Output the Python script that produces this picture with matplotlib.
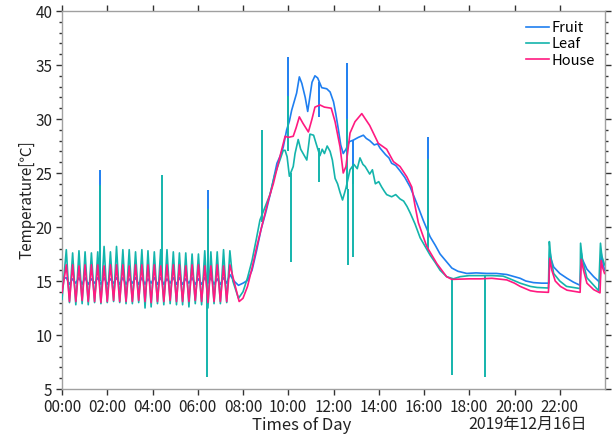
import numpy as np
import matplotlib
matplotlib.use("Agg")
import matplotlib.pyplot as plt
from matplotlib.ticker import MultipleLocator, FuncFormatter

plt.rcParams['font.family'] = ['Noto Sans CJK JP', 'DejaVu Sans']

# night cycling (hours of day)
night_peak_t = [0.19, 0.47, 0.75, 1.02, 1.30, 1.58, 1.86, 2.14, 2.41, 2.69, 2.97, 3.25, 3.53, 3.80,
                4.08, 4.36, 4.64, 4.92, 5.19, 5.47, 5.75, 6.03, 6.31, 6.58, 6.86, 7.14, 7.42]
night_trough_t = [0.33, 0.61, 0.89, 1.16, 1.44, 1.72, 2.00, 2.28, 2.55, 2.83, 3.11, 3.39, 3.67,
                  3.94, 4.22, 4.50, 4.78, 5.06, 5.33, 5.61, 5.89, 6.17, 6.45, 6.72, 7.00, 7.28]

fruit_start = 15.2
fruit_peaks = [15.3, 15.2, 15.3, 15.3, 15.2, 15.3, 15.3, 15.2, 15.3, 15.3, 15.2, 15.3, 15.3, 15.2,
               15.3, 15.3, 15.2, 15.3, 15.3, 15.2, 15.3, 15.2, 15.3, 15.3, 15.2, 15.3, 15.6]
fruit_troughs = [14.7, 14.8, 14.7, 14.7, 14.8, 14.7, 14.7, 14.8, 14.7, 14.7, 14.8, 14.7, 14.7,
                 14.8, 14.7, 14.7, 14.8, 14.7, 14.7, 14.8, 14.7, 14.7, 14.8, 14.7, 14.7, 14.8]

leaf_start = 13.3
leaf_peaks = [17.9, 17.6, 17.8, 17.7, 17.6, 17.7, 18.2, 17.7, 18.2, 17.9, 17.9, 17.7, 17.9, 17.8,
              17.7, 17.9, 17.9, 17.7, 17.6, 17.6, 17.5, 17.5, 17.8, 17.7, 17.7, 17.9, 17.8]
leaf_troughs = [13.0, 12.8, 12.9, 12.8, 13.0, 12.9, 13.0, 13.1, 13.0, 12.9, 12.9, 13.0, 12.5,
                12.6, 12.9, 12.8, 12.9, 12.8, 12.8, 12.6, 12.9, 12.8, 12.5, 12.9, 12.9, 13.0]

house_start = 13.9
house_peaks = [16.5, 16.5, 16.4, 16.5, 16.5, 16.5, 16.4, 16.5, 16.5, 16.5, 16.4, 16.5, 16.5, 16.5,
               16.5, 16.4, 16.5, 16.5, 16.5, 16.4, 16.5, 16.5, 16.4, 16.4, 16.5, 16.4, 16.5]
house_troughs = [13.1, 13.1, 13.2, 13.1, 13.1, 13.0, 13.1, 13.2, 13.1, 13.1, 13.1, 13.2, 13.1,
                 13.0, 13.1, 13.1, 13.2, 13.1, 13.1, 13.1, 13.2, 13.1, 13.0, 13.1, 13.1, 13.1]

# daytime
fruit_day_t = [7.6, 7.8, 8.0, 8.2, 8.4, 8.6, 8.8, 9.0, 9.2, 9.34, 9.5, 9.65, 9.78, 9.93, 10.05,
               10.15, 10.37, 10.49, 10.6, 10.75, 10.86, 10.95, 11.05, 11.18, 11.3, 11.48, 11.7,
               11.85, 12.0, 12.1, 12.21, 12.32, 12.43, 12.55, 12.7, 12.88, 13.1, 13.32, 13.45,
               13.6, 13.8, 13.95, 14.06, 14.3, 14.45, 14.57, 14.75, 14.94, 15.15, 15.39, 15.68,
               15.97, 16.27, 16.5, 16.71, 16.95, 17.23, 17.5, 17.89, 18.3, 18.77, 19.2, 19.66,
               20.0, 20.25, 20.5, 20.84, 21.2, 21.52, 21.56, 21.62, 21.73, 22.0, 22.32, 22.6,
               22.9, 22.95, 23.0, 23.2, 23.5, 23.78, 23.83, 23.88, 23.98]
fruit_day = [15.0, 14.6, 14.8, 15.05, 16.0, 17.8, 19.8, 21.3, 23.0, 24.35, 25.9, 26.6, 27.4,
             29.0, 29.8, 30.8, 32.4, 33.9, 33.3, 32.0, 30.7, 32.0, 33.4, 34.0, 33.8, 32.9, 32.8,
             32.5, 31.6, 30.5, 29.1, 27.6, 26.8, 27.2, 27.9, 28.05, 28.3, 28.5, 28.2, 28.0,
             27.6, 27.7, 27.3, 26.7, 26.4, 25.9, 25.7, 25.2, 24.6, 23.7, 22.2, 20.6, 19.1,
             18.3, 17.5, 16.9, 16.2, 15.9, 15.7, 15.75, 15.7, 15.7, 15.6, 15.4, 15.25, 15.0,
             14.85, 14.8, 14.8, 17.8, 17.0, 16.3, 15.7, 15.25, 14.9, 14.6, 17.6, 17.0, 16.1,
             15.4, 14.85, 17.6, 17.0, 16.0]

leaf_day_t = [7.55, 7.8, 8.0, 8.2, 8.4, 8.6, 8.75, 9.0, 9.19, 9.4, 9.63, 9.78, 9.86, 9.95,
              10.05, 10.22, 10.3, 10.44, 10.55, 10.74, 10.82, 10.96, 11.12, 11.25, 11.4, 11.5,
              11.6, 11.72, 11.85, 11.95, 12.07, 12.18, 12.29, 12.4, 12.55, 12.73, 12.9, 13.05,
              13.17, 13.3, 13.4, 13.6, 13.72, 13.85, 14.0, 14.13, 14.25, 14.35, 14.57, 14.75,
              14.94, 15.1, 15.25, 15.39, 15.6, 15.83, 16.05, 16.27, 16.5, 16.71, 17.0, 17.3,
              17.6, 18.0, 18.5, 19.0, 19.5, 19.8, 20.25, 20.7, 21.0, 21.5, 21.54, 21.6, 21.73,
              22.0, 22.3, 22.9, 22.92, 23.0, 23.2, 23.5, 23.72, 23.8, 23.86, 23.98]
leaf_day = [15.0, 13.4, 14.0, 15.3, 16.9, 19.0, 20.65, 22.0, 23.0, 24.8, 26.2, 27.1, 27.1, 26.5,
            24.7, 25.6, 26.8, 28.1, 27.2, 26.5, 26.2, 28.6, 28.5, 27.6, 26.6, 27.2, 26.8, 27.5,
            27.0, 26.2, 24.5, 24.0, 23.2, 22.5, 23.6, 25.3, 25.8, 25.4, 26.4, 25.8, 25.6, 24.9,
            25.3, 24.0, 24.2, 23.7, 23.3, 23.0, 22.8, 23.0, 22.6, 22.4, 21.9, 21.3, 20.3, 19.0,
            18.2, 17.4, 16.7, 16.0, 15.4, 15.2, 15.4, 15.5, 15.5, 15.5, 15.45, 15.2, 14.8,
            14.5, 14.4, 14.35, 18.65, 17.3, 15.7, 15.0, 14.5, 14.3, 18.5, 17.0, 15.3, 14.6,
            14.1, 18.5, 17.3, 16.5]

house_day_t = [7.6, 7.83, 8.0, 8.2, 8.4, 8.6, 8.9, 9.12, 9.34, 9.63, 9.86, 10.0, 10.22, 10.35,
               10.49, 10.65, 10.89, 11.05, 11.18, 11.4, 11.6, 11.9, 12.07, 12.29, 12.43, 12.55,
               12.73, 12.95, 13.25, 13.6, 13.98, 14.35, 14.65, 14.94, 15.24, 15.46, 15.6, 15.75,
               16.12, 16.57, 17.0, 17.23, 18.0, 18.5, 19.0, 19.66, 20.0, 20.25, 20.7, 21.0,
               21.5, 21.56, 21.65, 21.8, 22.03, 22.32, 22.9, 22.95, 23.05, 23.2, 23.5, 23.78,
               23.83, 23.9, 23.98]
house_day = [15.0, 13.1, 13.4, 14.5, 16.2, 18.1, 20.65, 22.5, 24.0, 26.5, 28.4, 28.3, 28.4,
             29.2, 30.2, 29.6, 28.8, 30.0, 31.1, 31.3, 31.1, 31.0, 29.75, 27.4, 25.0, 25.6,
             28.7, 29.75, 30.5, 29.4, 27.75, 27.2, 26.05, 25.6, 24.65, 23.7, 22.0, 20.4, 18.2,
             16.6, 15.4, 15.15, 15.2, 15.2, 15.25, 15.1, 14.8, 14.5, 14.1, 14.0, 13.95, 17.1,
             16.0, 15.0, 14.5, 14.15, 13.95, 17.0, 16.0, 14.8, 14.2, 13.9, 16.9, 16.2, 15.7]

# single-sample sensor spikes: (time, value before, spike value)
fruit_spikes = [(1.68, 15.0, 25.3), (6.46, 15.0, 23.4), (9.97, 29.0, 35.7), (11.34, 33.4, 30.2),
                (12.58, 27.2, 35.15), (12.88, 28.05, 24.0), (16.17, 19.3, 28.3)]
leaf_spikes = [(1.68, 15.0, 23.9), (4.44, 15.0, 24.8), (6.39, 15.0, 6.1), (6.46, 15.0, 21.7),
               (8.82, 20.5, 29.0), (9.97, 27.0, 32.1), (10.1, 25.0, 16.8), (11.34, 27.3, 24.2),
               (12.58, 23.5, 30.0), (12.63, 23.5, 16.5), (12.88, 25.6, 17.25), (16.17, 17.8, 26.3),
               (17.23, 15.2, 6.3), (18.7, 15.5, 6.1)]
house_spikes = []

fruit_color = '#1f7ff0'
leaf_color = '#14b4ac'
house_color = '#ff1a80'


def build(start, peaks, troughs, day_t, day_v):
    t = [0.0]
    v = [start]
    for i, p in enumerate(peaks):
        t.append(night_peak_t[i])
        v.append(p)
        if i < len(troughs):
            t.append(night_trough_t[i])
            v.append(troughs[i])
    return np.array(t + day_t), np.array(v + day_v)


fig = plt.figure(figsize=(6.16, 4.34), dpi=100)
ax = fig.add_axes([62 / 616, 1 - 389 / 434, 543 / 616, 378 / 434])

series = [
    ("Fruit", fruit_start, fruit_peaks, fruit_troughs, fruit_day_t, fruit_day, fruit_spikes, fruit_color),
    ("Leaf", leaf_start, leaf_peaks, leaf_troughs, leaf_day_t, leaf_day, leaf_spikes, leaf_color),
    ("House", house_start, house_peaks, house_troughs, house_day_t, house_day, house_spikes, house_color),
]
for z, (name, st, pk, tr, dt, dv, spikes, col) in enumerate(series):
    t, v = build(st, pk, tr, dt, dv)
    ax.plot(t, v, color=col, lw=1.2, label=name, zorder=2 + z)
    if spikes:
        ax.vlines([s[0] for s in spikes], [s[1] for s in spikes], [s[2] for s in spikes],
                  color=col, lw=1.4, zorder=2 + z)

ax.set_xlim(0, 24)
ax.set_ylim(5, 40)
ax.set_xticks(np.arange(0, 23, 2))
ax.xaxis.set_major_formatter(FuncFormatter(lambda x, p: f"{int(x):02d}:00"))
ax.yaxis.set_major_locator(MultipleLocator(5))
ax.yaxis.set_minor_locator(MultipleLocator(1))

for s in ax.spines.values():
    s.set_color('#a0a0a0')
    s.set_linewidth(1.0)

ax.tick_params(axis='both', which='major', direction='out', length=4, width=1,
               color='#333333', labelsize=11, labelcolor='#222222', pad=3)
ax.tick_params(axis='y', which='minor', direction='out', length=2.5, width=1, color='#333333')
ax.tick_params(axis='x', top=True, labeltop=False)
ax.tick_params(axis='y', which='both', right=True, labelright=False)
ax.tick_params(axis='y', which='minor', right=True, left=True)
ax.tick_params(axis='x', pad=3)

ax.set_ylabel("Temperature[℃]", fontsize=11, color='#222222', labelpad=0)
fig.text(302 / 616, 1 - 430 / 434, "Times of Day", fontsize=12, color='#222222',
         ha='center', va='baseline')
fig.text(587 / 616, 1 - 429 / 434, "2019年12月16日", fontsize=11.5, color='#222222',
         ha='right', va='baseline')

leg = ax.legend(loc='upper right', frameon=False, fontsize=10.5, handlelength=1.6,
                handletextpad=0.15, labelspacing=0.15, borderaxespad=0.3,
                bbox_to_anchor=(1.0, 1.0))

fig.savefig("out.png", dpi=100)
